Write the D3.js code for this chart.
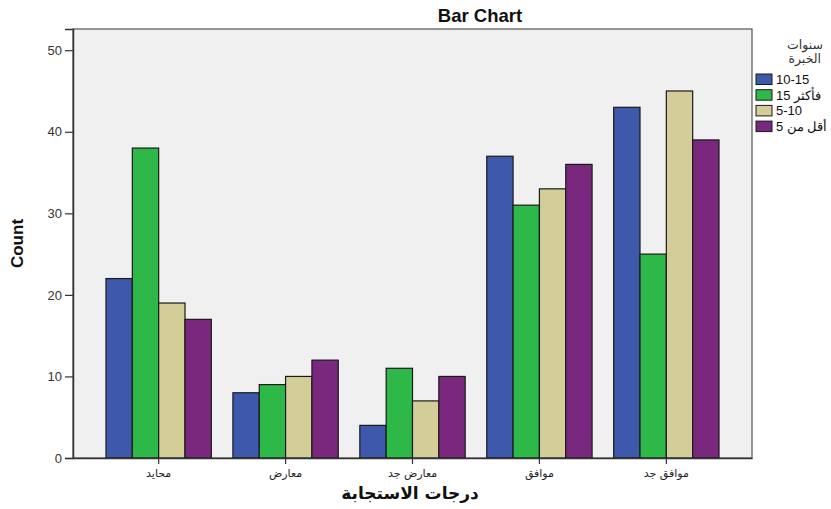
<!DOCTYPE html>
<html>
<head>
<meta charset="utf-8">
<script src="https://cdn.jsdelivr.net/npm/d3@7"></script>
<style>
  body { margin: 0; background: #ffffff; }
  svg { display: block; font-family: "Liberation Sans", Arial, sans-serif; }
</style>
</head>
<body>
<div id="chart"></div>
<script>
let categories = ["محايد", "معارض", "معارض جد", "موافق", "موافق جد"];
let seriesNames = ["10-15", "15 فأكثر", "5-10", "أقل من 5"];
let seriesColors = ["#3e58ac", "#2eb848", "#d3ce97", "#79287d"];
// counts per category, in series order
let s10to15 = [22, 8, 4, 37, 43];
let s15plus = [38, 9, 11, 31, 25];
let s5to10 = [19, 10, 7, 33, 45];
let sLess5 = [17, 12, 10, 36, 39];
let yTicks = [0, 10, 20, 30, 40, 50];

function main(){
    let width = 831, height = 509;
    let left = 73, right = 752, top = 29, bottom = 458;

    let svg = d3.select("#chart").append("svg")
        .attr("width", width)
        .attr("height", height);

    let series = [s10to15, s15plus, s5to10, sLess5];
    let data = categories.map(function(c, i){
        return {cat: c, values: series.map(function(s, j){ return {key: j, value: s[i]}; })};
    });

    let xScale = d3.scaleBand().domain(categories).range([left, right])
        .paddingInner(0.17).paddingOuter(0.26);
    let xInner = d3.scaleBand().domain(d3.range(seriesNames.length))
        .range([0, xScale.bandwidth()]);
    let yScale = d3.scaleLinear().domain([0, 52.6]).range([bottom, top]);

    // plot background + frame
    svg.append("rect")
        .attr("x", left).attr("y", top)
        .attr("width", right - left).attr("height", bottom - top)
        .attr("fill", "#f0f0f0")
        .attr("stroke", "#555")
        .attr("stroke-width", 1.2);

    // bars
    svg.append("g").selectAll("g")
        .data(data)
        .enter()
        .append("g")
        .attr("transform", function(d){ return "translate(" + xScale(d.cat) + ",0)"; })
        .selectAll("rect")
        .data(function(d){ return d.values; })
        .enter()
        .append("rect")
        .attr("x", function(d){ return xInner(d.key); })
        .attr("y", function(d){ return yScale(d.value); })
        .attr("width", xInner.bandwidth())
        .attr("height", function(d){ return bottom - yScale(d.value); })
        .attr("fill", function(d){ return seriesColors[d.key]; })
        .attr("stroke", "#1a1a1a")
        .attr("stroke-width", 1.2);

    // y axis
    let yAxis = svg.append("g")
        .attr("transform", "translate(" + left + ",0)")
        .call(d3.axisLeft(yScale).tickValues(yTicks).tickSize(8).tickPadding(3));
    yAxis.select(".domain").attr("stroke", "#333").attr("stroke-width", 1.5);
    yAxis.selectAll(".tick line").attr("stroke", "#333").attr("stroke-width", 1.2);
    yAxis.selectAll("text").attr("font-size", 13).attr("fill", "#333")
        .attr("font-family", "Liberation Sans, Arial, sans-serif");

    // x axis
    let xAxis = svg.append("g")
        .attr("transform", "translate(0," + bottom + ")")
        .call(d3.axisBottom(xScale).tickSize(6).tickSizeOuter(0).tickPadding(5));
    xAxis.select(".domain").attr("stroke", "#333").attr("stroke-width", 1.5);
    xAxis.selectAll(".tick line").attr("stroke", "#333").attr("stroke-width", 1.2);
    xAxis.selectAll("text").attr("font-size", 11).attr("fill", "#222")
        .attr("font-family", "DejaVu Sans, sans-serif");

    // title
    svg.append("text")
        .attr("x", 480).attr("y", 22)
        .attr("text-anchor", "middle")
        .attr("font-size", 18.5).attr("font-weight", "bold")
        .attr("fill", "#111")
        .text("Bar Chart");

    // y label
    svg.append("text")
        .attr("transform", "translate(23," + ((top + bottom) / 2) + ") rotate(-90)")
        .attr("text-anchor", "middle")
        .attr("font-size", 17).attr("font-weight", "bold")
        .attr("font-family", "Liberation Sans Narrow, Liberation Sans, sans-serif")
        .attr("fill", "#111")
        .text("Count");

    // x label
    svg.append("text")
        .attr("x", 410).attr("y", 499)
        .attr("text-anchor", "middle")
        .attr("font-size", 17).attr("font-weight", "bold")
        .attr("font-family", "DejaVu Sans, sans-serif")
        .attr("fill", "#111")
        .text("درجات الاستجابة");

    // legend
    let legend = svg.append("g");
    legend.append("text")
        .attr("x", 823).attr("y", 49)
        .attr("text-anchor", "end")
        .attr("font-size", 12.5).attr("fill", "#333")
        .attr("font-family", "DejaVu Sans, sans-serif")
        .text("سنوات");
    legend.append("text")
        .attr("x", 821).attr("y", 63)
        .attr("text-anchor", "end")
        .attr("font-size", 12.5).attr("fill", "#333")
        .attr("font-family", "DejaVu Sans, sans-serif")
        .text("الخبرة");

    let items = legend.selectAll("g.item")
        .data(seriesNames)
        .enter()
        .append("g")
        .attr("class", "item")
        .attr("transform", function(d, i){ return "translate(756," + (74 + i * 15.7) + ")"; });
    items.append("rect")
        .attr("width", 16).attr("height", 10.5)
        .attr("fill", function(d, i){ return seriesColors[i]; })
        .attr("stroke", "#1a1a1a").attr("stroke-width", 1);
    items.append("text")
        .attr("x", 20).attr("y", 10)
        .attr("font-size", 13).attr("fill", "#111")
        .text(function(d){ return d; });
}

main();
</script>
</body>
</html>
